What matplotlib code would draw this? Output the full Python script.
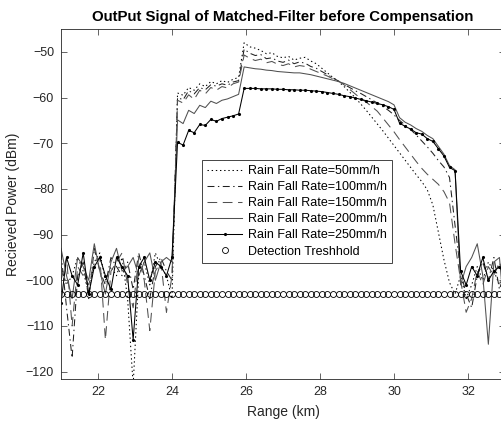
import numpy as np
import matplotlib
matplotlib.use('Agg')
import matplotlib.pyplot as plt

plt.rcParams['font.family'] = ['Liberation Sans', 'DejaVu Sans']
plt.rcParams['lines.scale_dashes'] = False

# Range grid (km), 0.15 km step from 21 to 33
range_km = np.linspace(21, 33, 81)
threshold_dbm = -103.0

# Received power (dBm) per rain fall rate
rain_50 = [
    -97, -101, -99, -95, -98, -103, -96, -94, -100, -97, -99, -95, -104, -123, -99, -96, -101, -94, -97, -99, -104,
    -59.0, -59.5, -57.8, -58.4, -57.0, -57.6, -56.5, -57.0, -56.3, -56.7, -56.0, -55.6,
    -48.0, -48.9, -49.2, -49.7, -50.4, -50.2, -51.0, -51.3, -51.0, -51.8, -51.4, -51.2, -52.0, -52.6, -53.6, -54.6,
    -55.6, -56.5, -57.6, -58.8, -60.0, -61.4, -62.8, -64.3, -65.8, -67.3, -68.9, -70.5, -72.1, -73.7, -75.3, -76.9,
    -78.4, -80.2, -83.5, -89.5, -95.5, -100.5,
    -103, -99, -104, -101, -97, -100, -96, -98, -101, -97,
]
rain_100 = [
    -94, -106, -117, -99, -96, -104, -93, -98, -101, -95, -97, -99, -96, -102, -94, -99, -104, -97, -95, -98, -100,
    -60.0, -60.5, -58.5, -59.2, -57.8, -58.3, -57.2, -57.5, -57.0, -57.3, -56.6, -56.3,
    -49.4, -50.3, -50.8, -50.6, -51.5, -51.3, -52.0, -52.3, -51.8, -52.6, -52.2, -52.5, -53.2, -53.6, -54.3, -55.0,
    -55.7, -56.4, -57.1, -57.8, -58.5, -59.1, -59.8, -60.5, -61.2, -62.0, -62.8, -63.8, -65.0, -66.0, -67.0, -68.2,
    -69.5, -70.8, -72.2, -73.8, -75.2, -77.5, -88.0,
    -98, -103, -106, -99, -96, -100, -95, -102, -98,
]
rain_150 = [
    -100, -95, -110, -97, -99, -101, -96, -95, -113, -98, -96, -94, -101, -106, -95, -100, -111, -98, -96, -107, -99,
    -60.6, -61.2, -59.4, -60.4, -58.4, -59.2, -57.8, -58.4, -57.6, -57.9, -57.0, -56.6,
    -50.7, -51.4, -51.9, -51.6, -52.4, -52.1, -52.7, -53.0, -52.6, -53.3, -53.0, -53.2, -53.8, -54.3, -54.8, -55.3,
    -55.9, -56.4, -57.2, -58.2, -59.2, -60.2, -61.0, -62.0, -63.0, -64.5, -66.0, -67.5, -69.2, -70.8, -72.4, -74.0,
    -75.5, -76.8, -77.9, -79.0, -80.6, -83.0, -92.0,
    -100, -107, -104, -98, -101, -97, -99, -96, -100,
]
rain_200 = [
    -93, -99, -104, -95, -97, -100, -92, -98, -103, -96, -93, -98, -97, -95, -99, -96, -94, -100, -96, -95, -96,
    -64.9, -65.7, -62.8, -63.5, -61.7, -62.2, -60.8, -61.3, -60.6, -60.3, -59.8, -59.3,
    -53.3, -53.5, -53.7, -53.8, -54.0, -54.1, -54.3, -54.4, -54.5, -54.6, -54.6, -54.8, -55.0, -55.3, -55.6, -55.9,
    -56.2, -56.5, -56.9, -57.4, -57.9, -58.4, -58.9, -59.4, -59.9, -60.4, -60.9, -61.6, -64.4, -65.4, -66.0, -66.8,
    -67.4, -68.3, -69.0, -70.7, -72.4, -74.9, -75.8,
    -101, -97, -95, -92, -99, -114, -96, -95, -109,
]
rain_250 = [
    -105, -95, -99, -101, -94, -103, -97, -95, -99, -102, -95, -97, -99, -113, -97, -95, -100, -96, -97, -99, -95,
    -69.8, -70.4, -67.2, -67.7, -65.9, -66.1, -64.8, -65.2, -64.6, -64.3, -64.0, -63.6,
    -58.0, -58.0, -58.0, -58.1, -58.1, -58.1, -58.2, -58.2, -58.3, -58.3, -58.4, -58.4, -58.5, -58.6, -58.7, -58.9,
    -59.1, -59.3, -59.6, -59.8, -60.1, -60.4, -60.7, -61.0, -61.3, -61.6, -62.0, -62.6, -65.6, -66.3, -66.9, -67.7,
    -68.0, -69.0, -69.6, -71.2, -72.8, -75.3, -76.0,
    -98, -101, -97, -99, -95, -100, -98, -97, -99,
]

fig = plt.figure(figsize=(5.01, 4.25), dpi=100)
ax = fig.add_axes([61 / 501, 46 / 425, 444 / 501, 350 / 425])

lw = 0.75
ax.plot(range_km, rain_50, color='k', lw=lw, ls=(0, (1, 2)), label='Rain Fall Rate=50mm/h')
ax.plot(range_km, rain_100, color='#202020', lw=lw, ls=(0, (5, 2.5, 1, 2.5)), label='Rain Fall Rate=100mm/h')
ax.plot(range_km, rain_150, color='#505050', lw=lw, ls=(0, (7, 4)), label='Rain Fall Rate=150mm/h')
ax.plot(range_km, rain_200, color='#505050', lw=lw, ls='-', label='Rain Fall Rate=200mm/h')
ax.plot(range_km, rain_250, color='k', lw=lw, ls='-', marker='.', markersize=2.5, label='Rain Fall Rate=250mm/h')
ax.plot(range_km, np.full(len(range_km), threshold_dbm), ls='none', marker='o', markersize=4.3,
        markerfacecolor='none', markeredgecolor='k', markeredgewidth=0.6, label='Detection Treshhold')

ax.set_xlim(21, 33)
ax.set_ylim(-121.6, -45)
ax.set_xticks([22, 24, 26, 28, 30, 32])
ax.set_yticks(range(-120, -49, 10))

ax.tick_params(direction='in', top=True, right=True, length=4, width=0.5,
               labelsize=9, colors='#262626', labelcolor='#262626', pad=5)
for s in ax.spines.values():
    s.set_linewidth(0.6)
    s.set_color('#262626')

ax.set_title('OutPut Signal of Matched-Filter before Compensation', fontsize=10.8, fontweight='bold', pad=6)
ax.set_xlabel('Range (km)', fontsize=10, color='#262626', labelpad=5)
ax.set_ylabel('Recieved Power (dBm)', fontsize=10, color='#262626')

leg = ax.legend(loc='upper left', bbox_to_anchor=(141 / 444, (379 - 160) / 350), fontsize=9,
                handlelength=2.8, handletextpad=0.5, labelspacing=0.33, borderpad=0.4,
                borderaxespad=0, fancybox=False, framealpha=1, edgecolor='#262626')
leg.get_frame().set_linewidth(0.6)

fig.savefig('out.png', dpi=100)
